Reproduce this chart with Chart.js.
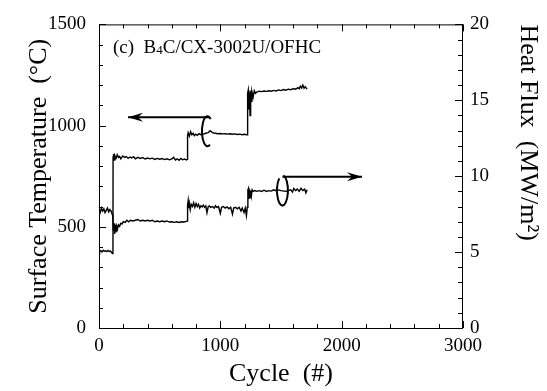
<!DOCTYPE html>
<html>
<head>
<meta charset="utf-8">
<script src="https://cdn.jsdelivr.net/npm/chart.js@4"></script>
<style>
  body { margin: 0; background: #fff; }
  canvas { display: block; }
</style>
</head>
<body>
<canvas id="grafico" width="547" height="391"></canvas>
<script>
// Ejes
const cycleTicks = [0, 1000, 2000, 3000];
const tempTicks = [0, 500, 1000, 1500];
const fluxTicks = [0, 5, 10, 15, 20];

// Temperatura superficial (ciclo, °C)
const cycleT = [0, 5, 15, 25, 35, 45, 55, 65, 75, 85, 95, 105, 112, 115,
  116, 120, 125, 130, 140, 150, 160, 170, 180, 195, 210, 225, 240, 255, 270, 285, 300, 320, 340, 360, 380, 400,
  420, 440, 460, 480, 500, 520, 540, 560, 580, 600, 615, 630, 645, 660, 675, 690, 705, 720, 728,
  730, 735, 745, 755, 765, 775, 785, 795, 810, 825, 840, 860, 880, 900, 915, 930, 945, 960, 980, 1000,
  1020, 1040, 1060, 1080, 1100, 1120, 1140, 1160, 1180, 1200, 1220,
  1225, 1230, 1235, 1240, 1245, 1250, 1255, 1260, 1270, 1280, 1290, 1300, 1320, 1340, 1360, 1380, 1400,
  1420, 1440, 1460, 1480, 1500, 1520, 1540, 1560, 1580, 1600, 1620, 1640, 1650, 1660, 1670, 1680, 1690,
  1700, 1710, 1715];
const tempC = [385, 378, 382, 376, 384, 379, 381, 377, 383, 378, 380, 372, 368, 375,
  845, 860, 830, 852, 838, 856, 842, 848, 836, 850, 843, 847, 838, 845, 840, 846, 836, 843, 838, 842, 835, 840,
  836, 839, 833, 838, 834, 837, 832, 836, 831, 835, 843, 830, 836, 829, 838, 831, 835, 830, 833,
  950, 965, 948, 970, 955, 962, 950, 958, 952, 960, 955, 958, 962, 965, 975, 968, 963, 962, 960, 961,
  959, 960, 958, 960, 957, 959, 956, 958, 955, 957, 954,
  1160, 1175, 1080, 1165, 1050, 1172, 1120, 1168, 1140, 1172, 1160, 1166, 1170, 1168, 1171, 1169, 1172,
  1170, 1174, 1171, 1176, 1173, 1178, 1175, 1180, 1177, 1183, 1180, 1188, 1182, 1195, 1186, 1200, 1185,
  1192, 1184, 1180];

// Flujo de calor (ciclo, MW/m2)
const cycleQ = [0, 10, 20, 30, 40, 50, 60, 70, 80, 90, 100, 108, 114,
  118, 124, 128, 134, 140, 146, 152, 160, 170, 180, 190, 200, 215, 230, 245, 260, 280, 300, 320, 340, 360,
  380, 400, 420, 440, 460, 480, 500, 520, 540, 560, 580, 600, 620, 640, 660, 680, 700, 720, 728,
  730, 735, 740, 745, 752, 760, 770, 780, 790, 800, 810, 820, 830, 840, 850, 860, 870, 880, 890, 900,
  910, 920, 935, 950, 960, 970, 985, 1000, 1010, 1025, 1040, 1055, 1070, 1085, 1100, 1110, 1125, 1140,
  1155, 1170, 1180, 1195, 1205, 1215, 1222, 1226,
  1228, 1232, 1236, 1240, 1245, 1250, 1256, 1262, 1270, 1285, 1300, 1320, 1340, 1360, 1380, 1400, 1420,
  1440, 1455, 1465, 1475, 1500, 1540, 1580, 1595, 1605, 1620, 1635, 1650, 1665, 1680, 1695, 1705, 1715];
const fluxQ = [7.8, 7.6, 7.9, 7.7, 7.85, 7.6, 7.75, 7.9, 7.65, 7.8, 7.7, 7.5, 7.4,
  6.4, 6.9, 6.2, 6.8, 6.3, 6.7, 6.5, 6.8, 6.7, 6.9, 6.85, 7.0, 6.95, 7.1, 7.0, 7.1, 7.05, 7.1, 7.15, 7.05, 7.1,
  7.05, 7.1, 7.05, 7.1, 7.0, 7.05, 7.0, 7.05, 7.0, 7.05, 6.98, 7.0, 6.96, 7.0, 6.95, 7.0, 6.98, 7.02, 7.05,
  8.1, 8.4, 7.9, 8.2, 7.8, 8.15, 8.0, 8.25, 7.95, 8.2, 8.0, 8.15, 7.9, 8.05, 7.98, 8.1, 7.95, 8.05, 7.6, 8.0,
  8.05, 7.95, 8.0, 7.9, 8.05, 7.95, 8.0, 7.55, 7.95, 8.0, 7.9, 7.98, 7.85, 7.95, 7.5, 7.9, 7.95, 7.85,
  7.95, 7.7, 7.9, 7.6, 7.9, 7.4, 7.95, 8.0,
  9.1, 9.2, 8.5, 9.1, 8.6, 9.05, 8.7, 9.1, 9.0, 9.05, 9.0, 9.05, 9.0, 9.08, 9.0, 9.05, 9.02,
  9.1, 9.05, 9.15, 9.1, 9.05, 9.0, 9.1, 8.95, 9.2, 9.05, 9.15, 9.0, 9.2, 9.05, 9.15, 8.9, 9.1];

// Anotaciones (en unidades de datos)
const etiquetaEn = [115, 1358];          // (ciclo, °C)
const flechaTemp = { ring: [894, 972], shaftY: 1041, tip: 239 };    // eje izquierdo
const flechaFlux = { ring: [1512, 9.06], shaftY: 9.97, tip: 2168 }; // eje derecho

const SERIF = "'Liberation Serif', 'Times New Roman', serif";

function dibujarFlecha(ctx, x0, y, x1) {
    ctx.lineWidth = 2;
    ctx.beginPath(); ctx.moveTo(x0, y); ctx.lineTo(x1, y); ctx.stroke();
    const d = Math.sign(x1 - x0);
    ctx.beginPath();
    ctx.moveTo(x1, y);
    ctx.lineTo(x1 - d * 15, y - 4.5);
    ctx.lineTo(x1 - d * 10, y);
    ctx.lineTo(x1 - d * 15, y + 4.5);
    ctx.closePath();
    ctx.fill();
}

const marco = {
    id: 'marco',
    afterDatasetsDraw(chart) {
        const { ctx, chartArea: a, scales } = chart;
        const sx = scales.x, sy = scales.y, sq = scales.y1;
        ctx.save();
        ctx.strokeStyle = '#000';
        ctx.fillStyle = '#000';
        ctx.lineWidth = 1;
        ctx.strokeRect(a.left + 0.5, a.top + 0.5, a.right - a.left - 1, a.bottom - a.top);

        // marcas hacia adentro
        ctx.beginPath();
        for (let v = 0; v <= 3000; v += 200) {
            const px = Math.round(sx.getPixelForValue(v)) + 0.5;
            const len = v % 1000 === 0 ? 7 : 4;
            ctx.moveTo(px, a.bottom); ctx.lineTo(px, a.bottom - len);
            ctx.moveTo(px, a.top); ctx.lineTo(px, a.top + len);
        }
        for (let v = 0; v <= 1500; v += 100) {
            const py = Math.round(sy.getPixelForValue(v)) + 0.5;
            const len = v % 500 === 0 ? 7 : 4;
            ctx.moveTo(a.left, py); ctx.lineTo(a.left + len, py);
        }
        for (let v = 0; v <= 20; v += 1) {
            const py = Math.round(sq.getPixelForValue(v)) + 0.5;
            const len = v % 5 === 0 ? 8 : 5;
            ctx.moveTo(a.right, py); ctx.lineTo(a.right - len, py);
        }
        ctx.stroke();

        // flechas y anillos
        const ring1x = sx.getPixelForValue(flechaTemp.ring[0]);
        const ring1y = sy.getPixelForValue(flechaTemp.ring[1]);
        ctx.lineWidth = 2;
        ctx.beginPath();
        ctx.ellipse(ring1x, ring1y, 5.5, 15, 0, -0.3 * Math.PI, 0.35 * Math.PI, true);
        ctx.stroke();
        dibujarFlecha(ctx, ring1x + 2, sy.getPixelForValue(flechaTemp.shaftY), sx.getPixelForValue(flechaTemp.tip));

        const ring2x = sx.getPixelForValue(flechaFlux.ring[0]);
        const ring2y = sq.getPixelForValue(flechaFlux.ring[1]);
        ctx.lineWidth = 2;
        ctx.beginPath();
        ctx.ellipse(ring2x, ring2y, 5.5, 15, 0, -0.45 * Math.PI, 1.3 * Math.PI, false);
        ctx.stroke();
        dibujarFlecha(ctx, ring2x, sq.getPixelForValue(flechaFlux.shaftY), sx.getPixelForValue(flechaFlux.tip));

        // etiqueta del panel
        let tx = sx.getPixelForValue(etiquetaEn[0]);
        const ty = sy.getPixelForValue(etiquetaEn[1]);
        ctx.textBaseline = 'alphabetic';
        [['(c)  B', 19, 0], ['4', 13, 1], ['C/CX-3002U/OFHC', 19, 0]].forEach(([t, size, dy]) => {
            ctx.font = `${size}px ${SERIF}`;
            ctx.fillText(t, tx, ty + dy);
            tx += ctx.measureText(t).width;
        });
        ctx.restore();
    }
};

const ticksBase = { color: '#000', font: { family: SERIF, size: 19 }, callback: v => String(v) };

new Chart(document.getElementById('grafico'), {
    type: 'line',
    data: {
        datasets: [
            {
                label: 'Temperatura',
                data: cycleT.map((x, i) => ({ x, y: tempC[i] })),
                yAxisID: 'y',
                borderColor: '#000',
                borderWidth: 1.4
            },
            {
                label: 'Flujo',
                data: cycleQ.map((x, i) => ({ x, y: fluxQ[i] })),
                yAxisID: 'y1',
                borderColor: '#000',
                borderWidth: 1.4
            }
        ]
    },
    options: {
        responsive: false,
        animation: false,
        devicePixelRatio: 1,
        layout: { padding: { top: 21 } },
        elements: { point: { radius: 0 }, line: { tension: 0 } },
        plugins: { legend: { display: false }, tooltip: { enabled: false } },
        scales: {
            x: {
                type: 'linear', min: 0, max: 3000,
                afterBuildTicks: s => { s.ticks = cycleTicks.map(v => ({ value: v })); },
                afterFit: s => { s.height = 63; },
                ticks: { ...ticksBase, padding: 7, maxRotation: 0 },
                grid: { display: false, drawTicks: false },
                border: { display: false },
                title: { display: true, text: 'Cycle  (#)', color: '#000',
                         font: { family: SERIF, size: 26 }, padding: { top: 0, bottom: 1 } }
            },
            y: {
                position: 'left', min: 0, max: 1500,
                afterBuildTicks: s => { s.ticks = tempTicks.map(v => ({ value: v })); },
                afterFit: s => { s.width = 99; },
                ticks: { ...ticksBase, padding: 13 },
                grid: { display: false, drawTicks: false },
                border: { display: false },
                title: { display: true, text: 'Surface Temperature  (°C)', color: '#000',
                         font: { family: SERIF, size: 26 }, padding: { top: 24, bottom: 0 } }
            },
            y1: {
                position: 'right', min: 0, max: 20,
                afterBuildTicks: s => { s.ticks = fluxTicks.map(v => ({ value: v })); },
                afterFit: s => { s.width = 84; },
                ticks: { ...ticksBase, padding: 7 },
                grid: { display: false, drawTicks: false },
                border: { display: false },
                title: { display: true, text: 'Heat Flux  (MW/m²)', color: '#000', align: 'end',
                         font: { family: SERIF, size: 26 }, padding: { top: 4, bottom: 0 } }
            }
        }
    },
    plugins: [marco]
});
</script>
</body>
</html>
